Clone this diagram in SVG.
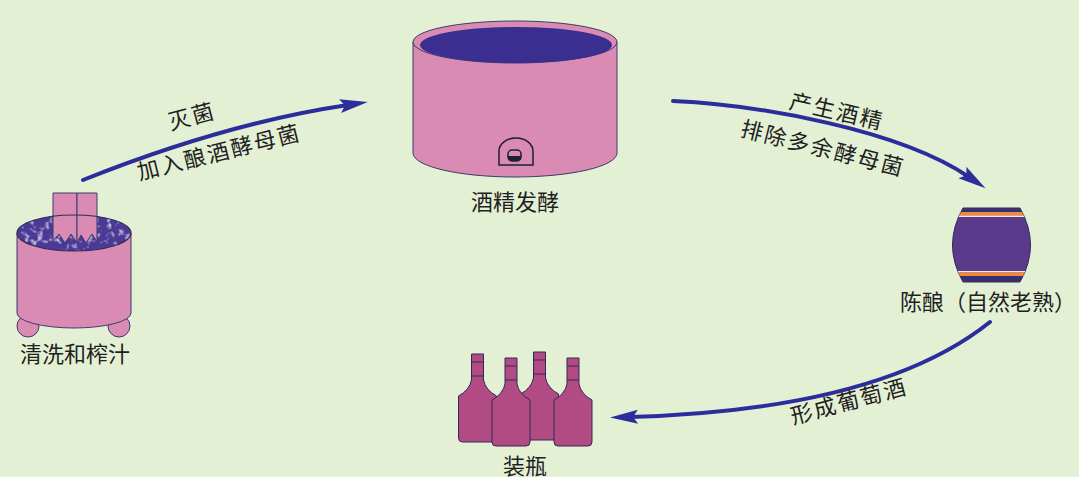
<svg xmlns="http://www.w3.org/2000/svg" width="1079" height="477" viewBox="0 0 1079 477">
  <defs>
    <style>
      .label { font-family: "Liberation Serif", "Noto Sans CJK SC", serif; font-size: 22px; fill: #1f1f1f; text-anchor: middle; }
      .edge { letter-spacing: 2px; }
      .flow { fill: none; stroke: #2b2d9c; stroke-width: 4; stroke-linecap: round; }
      .pink { fill: #d98bb4; stroke: #3d3a6e; stroke-width: 1; }
      .bottle { fill: #b24a83; stroke: #2e2a55; stroke-width: 1; }
      .rim { fill: none; stroke: #2e2a55; stroke-width: 1.2; }
    </style>
    <marker id="head" markerUnits="userSpaceOnUse" markerWidth="34" markerHeight="20" viewBox="-2 -10 34 20" refX="8" refY="0" orient="auto">
      <path d="M0,-7 L28,0 L0,7 L5,0 Z" fill="#2b2d9c"/>
    </marker>
    <!-- mottled grape pulp -->
    <filter id="mottle" x="0" y="0" width="1" height="1">
      <feTurbulence type="fractalNoise" baseFrequency="0.16" numOctaves="2" seed="7"/>
      <feColorMatrix type="matrix" values="0 0 0 0 0.55  0 0 0 0 0.48  0 0 0 0 0.78  4 0 0 0 -2.1"/>
      <feComposite in2="SourceGraphic" operator="in"/>
    </filter>
    <clipPath id="barrelClip">
      <path d="M963,208 H1020 Q1041,245 1020,282 H963 Q942,245 963,208 Z"/>
    </clipPath>
    <path id="bottleShape" d="M-6,0 H6 V26 Q8,36 19,42 V84 Q19,88 15,88 H-15 Q-19,88 -19,84 V42 Q-8,36 -6,26 Z"/>
  </defs>

  <rect width="1079" height="477" fill="#e4f0d4"/>

  <!-- connectors -->
  <g id="connectors">
    <path class="flow" d="M83,180 Q226,123 348,105" marker-end="url(#head)"/>
    <path class="flow" d="M673,101 C760,105 900,130 969,177" marker-end="url(#head)"/>
    <path class="flow" d="M990,322 Q880,410 630,417" marker-end="url(#head)"/>
    <text class="label edge" transform="translate(194,124) rotate(-15)">灭菌</text>
    <text class="label edge" transform="translate(221,160) rotate(-14)">加入酿酒酵母菌</text>
    <text class="label edge" transform="translate(835,119) rotate(13)">产生酒精</text>
    <text class="label edge" transform="translate(821,156) rotate(14)">排除多余酵母菌</text>
    <text class="label edge" transform="translate(851,409) rotate(-15)">形成葡萄酒</text>
  </g>

  <!-- washing and pressing tub -->
  <g id="press">
    <circle class="pink" cx="28" cy="326" r="11"/>
    <circle class="pink" cx="119" cy="326" r="11"/>
    <path class="pink" d="M17,233 V313 A57,15 0 0 0 131,313 V233 Z"/>
    <ellipse cx="74" cy="233" rx="57" ry="18" fill="#4a3995"/>
    <ellipse cx="74" cy="233" rx="57" ry="18" fill="#000" filter="url(#mottle)"/>
    <path class="pink" d="M53,193 H77 V243 L71,234 L65,243 L59,234 L53,241 Z"/>
    <path class="pink" d="M77,193 H97 V242 L92,234 L86,243 L81,235 L77,243 Z"/>
    <ellipse class="rim" cx="74" cy="233" rx="57" ry="18"/>
    <text class="label" x="75" y="362">清洗和榨汁</text>
  </g>

  <!-- fermentation vat -->
  <g id="vat">
    <path class="pink" d="M413,42 V153 A102,24 0 0 0 617,153 V42 Z"/>
    <ellipse class="pink" cx="515" cy="42" rx="102" ry="21"/>
    <ellipse cx="516" cy="45" rx="96" ry="18" fill="#3a2f90"/>
    <path d="M499,165 V151 A17,13 0 0 1 533,151 V165 Z" fill="none" stroke="#1f1f2f" stroke-width="1.5"/>
    <rect x="508" y="150" width="13" height="11" rx="4" fill="none" stroke="#1f1f2f" stroke-width="1.5"/>
    <path d="M508,156 H521 V157 Q521,161 517,161 H512 Q508,161 508,157 Z" fill="#1f1f2f"/>
    <text class="label" x="515" y="210">酒精发酵</text>
  </g>

  <!-- ageing barrel -->
  <g id="barrel">
    <path d="M963,208 H1020 Q1041,245 1020,282 H963 Q942,245 963,208 Z" fill="#5b3a8c" stroke="#2e2a55" stroke-width="1"/>
    <g clip-path="url(#barrelClip)">
      <rect x="940" y="208" width="100" height="4" fill="#3a2f6e"/>
      <rect x="940" y="212" width="100" height="3.5" fill="#f08a3a"/>
      <rect x="940" y="215.5" width="100" height="1.5" fill="#f4e8d8"/>
      <rect x="940" y="271" width="100" height="1.5" fill="#f4e8d8"/>
      <rect x="940" y="272.5" width="100" height="3.5" fill="#f08a3a"/>
      <rect x="940" y="276" width="100" height="6" fill="#3a2f6e"/>
    </g>
    <text class="label" x="988" y="310">陈酿（自然老熟）</text>
  </g>

  <!-- bottling -->
  <g id="bottles">
    <g transform="translate(477.5,354)"><use href="#bottleShape" class="bottle"/><path d="M-6,8 H6 M-6,22 H6" stroke="#2e2a55" stroke-width="1"/></g>
    <g transform="translate(539.5,352)"><use href="#bottleShape" class="bottle"/><path d="M-6,8 H6 M-6,22 H6" stroke="#2e2a55" stroke-width="1"/></g>
    <g transform="translate(511,358)"><use href="#bottleShape" class="bottle"/><path d="M-6,8 H6 M-6,22 H6" stroke="#2e2a55" stroke-width="1"/></g>
    <g transform="translate(573,358)"><use href="#bottleShape" class="bottle"/><path d="M-6,8 H6 M-6,22 H6" stroke="#2e2a55" stroke-width="1"/></g>
    <text class="label" x="525" y="474">装瓶</text>
  </g>
</svg>
